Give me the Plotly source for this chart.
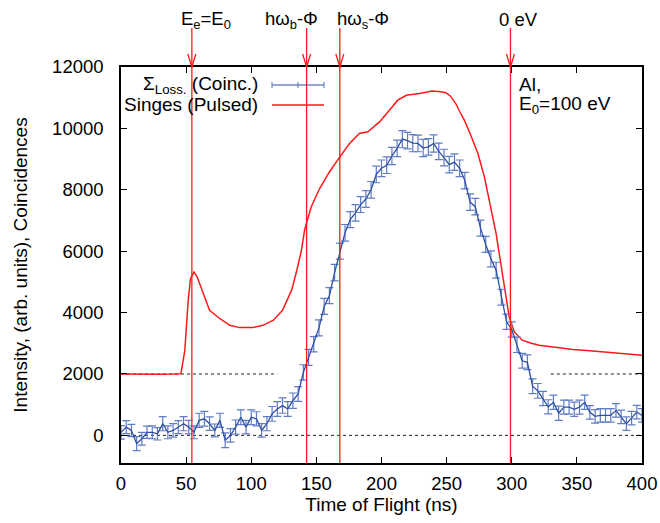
import plotly.graph_objects as go

# ---------------- data ----------------
# Coincidence loss spectrum (blue, with error bars), 4 ns bins
coinc_x = list(range(0, 401, 4))
coinc_y = [100, 270, 160, -270, -110, 100, 100, 50, 380, 100,
           160, 270, 380, 270, 100, 490, 540, 380, 160, 490,
           -160, 0, 270, 590, 270, 590, 540, 160, 380, 700,
           860, 970, 860, 1130, 1350, 2050, 2540, 2970, 3500, 4200,
           4550, 5300, 6000, 6600, 7030, 7250, 7520, 7700, 8000, 8500,
           8700, 8800, 9100, 9350, 9650, 9600, 9520, 9510, 9360, 9400,
           9510, 9250, 9050, 8820, 8900, 8700, 8300, 7600, 7450, 6750,
           6220, 5750, 5380, 4500, 3700, 3450, 2950, 2430, 2380, 1600,
           1450, 1200, 930, 1080, 720, 920, 920, 850, 920, 1080,
           750, 620, 650, 650, 650, 815, 600, 380, 560, 760, 650]
coinc_err = [220, 210, 200, 230, 210, 200, 210, 200, 230, 210,
             220, 210, 230, 220, 210, 230, 240, 220, 210, 230,
             240, 220, 230, 240, 220, 240, 230, 220, 230, 240,
             240, 250, 240, 250, 240, 250, 260, 250, 260, 260,
             260, 270, 260, 270, 260, 270, 260, 270, 270, 270,
             270, 270, 280, 270, 280, 270, 280, 270, 280, 270,
             280, 270, 270, 270, 270, 270, 270, 270, 270, 260,
             260, 260, 260, 260, 250, 250, 250, 240, 240, 240,
             240, 230, 230, 230, 230, 230, 230, 230, 230, 230,
             220, 220, 220, 220, 220, 220, 220, 220, 220, 220, 220]

# Singles (pulsed) spectrum (red)
singles_x = [0, 10, 20, 30, 40, 46, 49, 51.6, 53.4, 56, 58.5, 61.8, 68, 76,
             83.5, 91, 101, 109, 117, 124, 131, 135, 138.5, 141, 146, 152.5,
             160, 168, 175.5, 183, 189.5, 198.5, 206, 212.5, 219, 224, 229,
             234, 239, 244, 249.6, 253, 257, 260, 263.6, 268, 274, 279, 284,
             288, 290.4, 294.3, 298, 302, 308, 315, 321, 335, 347, 360, 372,
             386, 400]
singles_y = [2000, 1990, 2000, 1995, 2000, 2010, 2770, 4400, 5110, 5320,
             5160, 4780, 4075, 3800, 3585, 3510, 3510, 3585, 3750, 4075,
             4730, 5380, 6030, 6700, 7440, 8040, 8580, 9070, 9510, 9835,
             9890, 10210, 10600, 10920, 11080, 11100, 11140, 11180, 11220,
             11200, 11160, 11050, 10810, 10550, 10270, 9835, 9180, 8420,
             7440, 6575, 5920, 4830, 3860, 3370, 3100, 3000, 2935, 2860,
             2795, 2760, 2715, 2670, 2610]

# marker lines (vertical red lines) and their labels
marker_x = [54.4, 142.5, 168.0, 299.0]
marker_labels = ["E<sub>e</sub>=E<sub>0</sub>", "hω<sub>b</sub>-Φ",
                 "hω<sub>s</sub>-Φ", "0 eV"]
marker_label_x = [65, 131, 185.5, 305]

# baseline reference levels (dotted)
base0_x = [0, 400]
base0_y = [0, 0]
base2000_left_x = [0, 120]
base2000_right_x = [330, 400]
base2000_y = [2000, 2000]

x_ticks = [0, 50, 100, 150, 200, 250, 300, 350, 400]
y_ticks = [0, 2000, 4000, 6000, 8000, 10000, 12000]

# ---------------- styles ----------------
FONT = "Liberation Sans, Arial, Helvetica, sans-serif"
RED = "#ff1a1a"
BLUE = "#2f4fa3"
BLUE_ERR = "#5f7cc4"
FS = 19

fig = go.Figure()

# dotted baselines
for xs, ys in [(base0_x, base0_y), (base2000_left_x, base2000_y), (base2000_right_x, base2000_y)]:
    fig.add_trace(go.Scatter(x=xs, y=ys, mode="lines",
                             line=dict(color="#222222", width=1, dash="dot"),
                             hoverinfo="skip", showlegend=False))

# singles
fig.add_trace(go.Scatter(x=singles_x, y=singles_y, mode="lines",
                         line=dict(color=RED, width=1.5),
                         name="Singes (Pulsed)", showlegend=False))

# coincidences
fig.add_trace(go.Scatter(x=coinc_x, y=coinc_y, mode="lines",
                         line=dict(color=BLUE, width=1.3),
                         error_y=dict(type="data", array=coinc_err, visible=True,
                                      color=BLUE_ERR, thickness=1.2, width=4),
                         name="ΣLoss. (Coinc.)", showlegend=False))

shapes = []
annotations = []
TOP_PAPER = (463 - 28) / 396.0
for mx, lab, lx in zip(marker_x, marker_labels, marker_label_x):
    shapes.append(dict(type="line", xref="x", yref="paper", x0=mx, x1=mx,
                       y0=0, y1=TOP_PAPER, line=dict(color=RED, width=1.3)))
    shapes.append(dict(type="path", xref="x", yref="paper",
                       xsizemode="pixel", ysizemode="pixel",
                       xanchor=mx, yanchor=1.0,
                       path="M-4,13 L0,0 L4,13",
                       line=dict(color=RED, width=1.3)))
    annotations.append(dict(x=lx, y=(463 - 20) / 396.0, xref="x", yref="paper",
                            text=lab, showarrow=False, xanchor="center",
                            yanchor="middle",
                            font=dict(family=FONT, size=18.5, color="black")))

# manual legend (text before sample, gnuplot style)
W = 521.0
H = 396.0
def px(xp):
    return (xp - 121) / W
def py(yp):
    return (463 - yp) / H

ly1, ly2 = py(85), py(105)
lx0, lx1 = px(272), px(324)
annotations.append(dict(x=px(260), y=ly1, xref="paper", yref="paper",
                        text="Σ<sub>Loss.</sub> (Coinc.)", showarrow=False,
                        xanchor="right", yanchor="middle",
                        font=dict(family=FONT, size=FS, color="black")))
annotations.append(dict(x=px(260), y=ly2, xref="paper", yref="paper",
                        text="Singes (Pulsed)", showarrow=False,
                        xanchor="right", yanchor="middle",
                        font=dict(family=FONT, size=FS, color="black")))
shapes.append(dict(type="line", xref="paper", yref="paper", x0=lx0, x1=lx1,
                   y0=ly1, y1=ly1, line=dict(color=BLUE, width=1.2)))
for cx in (lx0, lx1, (lx0 + lx1) / 2):
    shapes.append(dict(type="line", xref="paper", yref="paper", x0=cx, x1=cx,
                       y0=ly1 - 3 / H, y1=ly1 + 3 / H,
                       line=dict(color=BLUE_ERR, width=1.1)))
shapes.append(dict(type="line", xref="paper", yref="paper", x0=lx0, x1=lx1,
                   y0=ly2, y1=ly2, line=dict(color=RED, width=1.5)))

annotations.append(dict(x=px(517), y=ly1, xref="paper", yref="paper",
                        text="Al,", showarrow=False, xanchor="left",
                        yanchor="middle",
                        font=dict(family=FONT, size=FS, color="black")))
annotations.append(dict(x=px(517), y=ly2, xref="paper", yref="paper",
                        text="E<sub>0</sub>=100 eV", showarrow=False,
                        xanchor="left", yanchor="middle",
                        font=dict(family=FONT, size=FS, color="black")))

fig.update_layout(
    width=660, height=523,
    margin=dict(l=121, r=18, t=67, b=60, pad=0),
    paper_bgcolor="white", plot_bgcolor="white",
    font=dict(family=FONT, size=18, color="black"),
    shapes=shapes, annotations=annotations,
    showlegend=False,
)
fig.update_xaxes(range=[0, 400], tickvals=x_ticks, ticks="inside", ticklen=6,
                 tickwidth=1, tickcolor="black", showline=True, linecolor="black",
                 linewidth=1.5, mirror="ticks", showgrid=False, zeroline=False,
                 ticklabelstandoff=3, automargin=False,
                 tickfont=dict(family=FONT, size=18.5),
                 title=dict(text="Time of Flight (ns)", standoff=5,
                            font=dict(family=FONT, size=FS)))
fig.update_yaxes(range=[-900, 12000], tickvals=y_ticks, tickformat="d",
                 ticks="inside", ticklen=6,
                 tickwidth=1, tickcolor="black", showline=True, linecolor="black",
                 linewidth=1.5, mirror="ticks", showgrid=False, zeroline=False,
                 ticklabelstandoff=12, automargin=False,
                 tickfont=dict(family=FONT, size=18.5),
                 title=dict(text="Intensity, (arb. units), Coincidences", standoff=19,
                            font=dict(family=FONT, size=FS)))

fig.write_html("out.html", config={"displayModeBar": False},
               post_script="document.body.style.margin='0';document.body.style.padding='0';")
